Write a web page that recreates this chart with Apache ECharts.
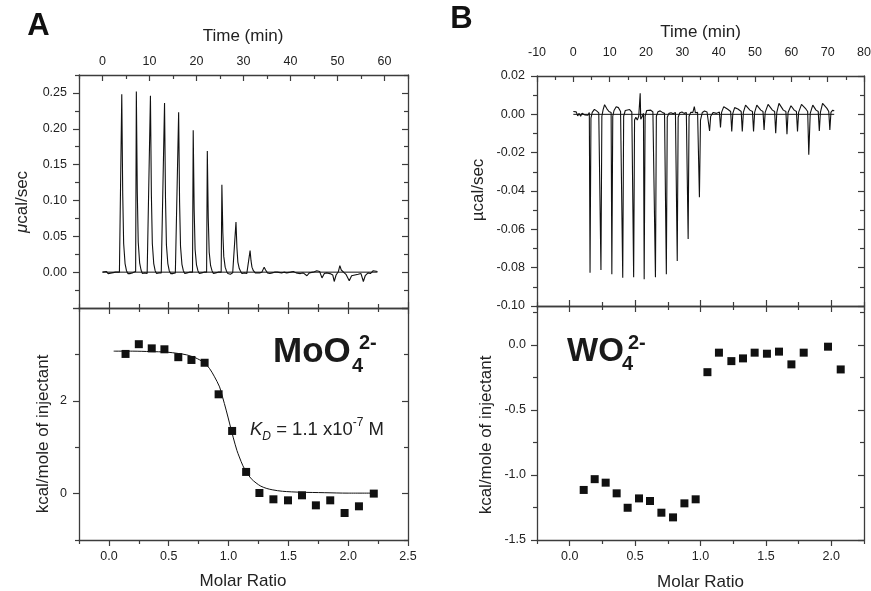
<!DOCTYPE html>
<html><head><meta charset="utf-8">
<script src="https://cdn.jsdelivr.net/npm/echarts@6/dist/echarts.min.js"></script>
<style>html,body{margin:0;padding:0;background:#fff}#c{width:871px;height:591px}</style>
</head><body><div id="c"></div>
<script>
// ---------------- DATA ----------------
// Panel A raw ITC thermogram: time (min) and power (µcal/sec)
const timeA = [0.0,0.4,0.8,1.2,1.6,2.0,2.4,2.8,3.2,3.6,3.95,
 4.1,4.3,4.5,4.8,5.1,5.4,5.9,6.4,6.8,7.05,
 7.2,7.4,7.6,7.9,8.2,8.5,9.0,9.5,9.9,10.05,
 10.2,10.4,10.6,10.9,11.2,11.5,12.0,12.5,12.9,13.05,
 13.2,13.4,13.6,13.9,14.2,14.5,15.0,15.5,15.9,16.05,
 16.2,16.4,16.6,16.9,17.2,17.5,18.0,18.5,18.9,19.15,
 19.3,19.5,19.7,20.0,20.3,20.6,21.1,21.6,22.0,22.15,
 22.3,22.5,22.7,23.0,23.3,23.6,24.1,24.6,25.0,25.25,
 25.4,25.6,25.8,26.1,26.4,26.7,27.2,27.7,28.1,28.25,
 28.4,28.6,28.8,29.1,29.4,29.7,30.2,30.7,31.1,31.25,
 31.4,31.6,31.8,32.1,32.5,32.9,33.4,33.9,34.25,
 34.4,34.7,35.1,35.6,36.1,36.6,37.2,37.6,38.1,38.6,39.2,40.0,40.6,41.2,42.1,42.7,
 43.5,44.0,44.8,45.6,46.2,46.7,47.2,47.7,48.4,49.0,49.3,49.7,50.2,50.5,50.8,51.2,
 51.8,52.5,53.0,53.7,54.4,55.0,55.5,55.9,56.5,57.0,57.6,58.0,58.5];
const powerA = [0.000,-0.001,0.001,-0.002,0.000,-0.001,0.001,0.000,0.002,0.000,0.001,
 0.248,0.110,0.040,0.012,0.002,-0.002,-0.002,-0.001,0.000,0.001,
 0.252,0.112,0.042,0.013,0.003,-0.002,-0.001,-0.002,0.000,0.000,
 0.246,0.108,0.040,0.012,0.002,-0.002,-0.001,-0.001,0.000,0.000,
 0.236,0.104,0.038,0.012,0.002,-0.002,-0.002,-0.001,0.000,0.000,
 0.223,0.098,0.036,0.011,0.002,-0.002,-0.001,0.000,-0.001,0.000,
 0.198,0.088,0.032,0.010,0.002,-0.002,-0.001,0.000,-0.001,0.000,
 0.169,0.076,0.028,0.009,0.002,-0.002,-0.001,0.000,0.000,0.000,
 0.122,0.056,0.022,0.007,0.001,-0.002,-0.003,-0.001,0.000,0.000,
 0.070,0.034,0.014,0.005,0.001,-0.002,-0.001,-0.002,0.000,0.000,
 0.030,0.016,0.007,0.002,-0.001,-0.002,-0.001,0.000,0.000,
 0.007,0.003,-0.001,-0.002,-0.001,0.000,0.000,0.001,-0.001,0.000,-0.001,0.000,0.001,-0.001,-0.002,-0.001,
 -0.005,-0.001,0.000,0.002,0.001,-0.008,-0.002,-0.001,-0.002,-0.004,-0.013,-0.004,0.001,0.009,0.003,0.001,
 -0.003,-0.012,-0.005,-0.004,-0.003,-0.002,-0.013,-0.005,-0.001,-0.002,0.002,0.000,0.001];
const baseTimeA = [0.0, 58.5];
const baseValA = [0, 0];

// Panel A integrated heats (kcal/mole of injectant) vs molar ratio
const molarA = [0.139,0.25,0.358,0.464,0.58,0.69,0.80,0.917,1.03,1.147,1.258,1.375,1.497,1.614,1.73,1.85,1.97,2.09,2.214];
const heatA  = [3.01,3.22,3.13,3.11,2.94,2.88,2.82,2.14,1.35,0.467,0.013,-0.123,-0.145,-0.037,-0.253,-0.145,-0.418,-0.274,0.0];
// Panel A fitted curve
const fitMolarA = [0.04,0.2,0.35,0.48,0.58,0.65,0.72,0.76,0.80,0.84,0.88,0.925,0.95,0.98,1.01,1.04,1.07,1.09,1.12,1.15,1.19,1.23,1.27,1.32,1.37,1.45,1.6,1.8,2.0,2.22];
const fitHeatA  = [3.07,3.07,3.06,3.05,3.02,2.99,2.93,2.88,2.81,2.70,2.53,2.30,2.08,1.80,1.50,1.20,0.93,0.79,0.60,0.46,0.32,0.23,0.16,0.11,0.08,0.05,0.03,0.02,0.01,0.01];

// Panel B raw ITC thermogram
const timeB = [0.0,0.4,0.8,1.2,1.6,2.0,2.4,2.8,3.2,3.6,4.0,4.4,
 4.6,4.85,5.2,5.8,6.4,7.0,7.4,
 7.6,7.85,8.2,8.6,9.2,9.8,10.4,
 10.6,10.85,11.2,11.8,12.4,13.0,13.4,
 13.6,13.85,14.3,14.8,15.5,16.1,16.4,
 16.6,16.85,17.2,17.6,18.0,18.3,18.4,18.55,19.0,19.3,
 19.5,19.75,20.2,20.7,21.3,21.9,22.4,
 22.6,22.85,23.3,23.9,24.5,25.1,25.4,
 25.6,25.85,26.3,26.9,27.5,28.1,28.4,
 28.6,28.85,29.3,29.9,30.5,31.1,31.4,
 31.6,31.85,32.3,32.9,33.3,33.6,34.2,34.5,
 34.7,35.0,35.5,36.1,36.8,37.2,
 37.5,37.8,38.5,39.4,40.2,
 40.5,40.8,41.4,42.4,43.3,
 43.6,43.9,44.4,45.3,46.2,
 46.5,46.8,47.4,48.6,49.3,
 49.6,49.9,50.5,51.6,52.2,
 52.5,52.8,53.6,54.8,55.4,
 55.7,56.0,56.6,57.8,58.5,
 58.8,59.1,59.9,60.8,61.4,
 61.7,62.0,62.8,64.0,64.5,
 64.8,65.2,65.9,66.8,67.4,
 67.7,68.0,68.6,69.8,70.3,
 70.6,70.9,71.4,71.8];
const powerB = [0.0015,0.0008,0.0013,-0.0008,0.0005,-0.0010,0.0006,0.0010,-0.0003,0.0004,-0.0005,0.0010,
 -0.0826,-0.0020,0.0010,0.0026,0.0018,0.0008,0.0010,
 -0.0812,-0.0010,0.0025,0.0050,0.0030,0.0015,0.0010,
 -0.0834,-0.0010,0.0020,0.0040,0.0035,0.0015,0.0010,
 -0.0852,-0.0010,0.0020,0.0030,0.0025,0.0012,0.0005,
 -0.0850,-0.0030,-0.0015,-0.0030,-0.0010,-0.0015,0.0110,-0.0025,-0.0010,0.0005,
 -0.0860,-0.0010,0.0020,0.0030,0.0022,0.0012,0.0010,
 -0.0850,-0.0010,0.0014,0.0018,0.0010,0.0005,0.0008,
 -0.0834,-0.0015,0.0005,0.0008,0.0003,0.0010,0.0005,
 -0.0765,-0.0015,0.0008,0.0012,0.0005,0.0010,0.0005,
 -0.0650,-0.0010,0.0010,0.0010,0.0040,0.0008,0.0010,0.0005,
 -0.0433,-0.0030,0.0010,0.0017,0.0012,0.0005,
 -0.0087,-0.0010,0.0010,0.0005,0.0012,
 -0.0069,0.0010,0.0040,0.0028,0.0015,
 -0.0090,0.0005,0.0035,0.0028,0.0015,
 -0.0090,0.0010,0.0048,0.0022,0.0015,
 -0.0090,0.0010,0.0048,0.0022,0.0015,
 -0.0081,0.0010,0.0052,0.0022,0.0015,
 -0.0099,0.0010,0.0057,0.0022,0.0015,
 -0.0104,0.0010,0.0045,0.0022,0.0015,
 -0.0090,0.0010,0.0052,0.0028,0.0015,
 -0.0211,0.0005,0.0048,0.0022,0.0015,
 -0.0087,0.0010,0.0057,0.0031,0.0015,
 -0.0081,0.0010,0.0022,0.0017];
const baseTimeB = [0.0, 71.8];
const baseValB = [0, 0];

// Panel B integrated heats
const molarB = [0.107,0.191,0.275,0.359,0.443,0.53,0.614,0.701,0.79,0.877,0.963,1.053,1.141,1.236,1.325,1.414,1.508,1.6,1.695,1.789,1.975,2.072];
const heatB  = [-1.115,-1.032,-1.059,-1.141,-1.252,-1.18,-1.2,-1.29,-1.326,-1.218,-1.187,-0.209,-0.059,-0.124,-0.103,-0.059,-0.067,-0.051,-0.149,-0.059,-0.013,-0.188];

// Tick values (labelled majors) and minor ticks
const timeTicksA  = [0,10,20,30,40,50,60];
const timeMinorA  = [-5,5,15,25,35,45,55,65];
const timeTicksB  = [-10,0,10,20,30,40,50,60,70,80];
const timeMinorB  = [-5,5,15,25,35,45,55,65,75];
const powerTicksA = [0.00,0.05,0.10,0.15,0.20,0.25];
const powerMajorA = [-0.05,0.00,0.05,0.10,0.15,0.20,0.25];
const powerMinorA = [-0.025,0.025,0.075,0.125,0.175,0.225,0.275];
const powerTicksB = [0.02,0.00,-0.02,-0.04,-0.06,-0.08,-0.10];
const powerMinorB = [0.01,-0.01,-0.03,-0.05,-0.07,-0.09];
const heatTicksA  = [0,2];
const heatMajorA  = [0,2,4];
const heatMinorA  = [-1,1,3];
const heatTicksB  = [0.0,-0.5,-1.0,-1.5];
const heatMinorB  = [0.25,-0.25,-0.75,-1.25];
const molarTicksA = [0.0,0.5,1.0,1.5,2.0,2.5];
const molarTicksB = [0.0,0.5,1.0,1.5,2.0];
const molarMinor  = [-0.25,0.25,0.75,1.25,1.75,2.25];

// ---------------- BUILD ----------------
const FONT = '"Liberation Sans", Arial, sans-serif';
const AXC = '#3c3c3c';
const TXT = '#222';
const zip = (a, b) => a.map((v, i) => [v, b[i]]);

const rects = [
  {left:79,  top:75,  width:329, height:233},  // A top
  {left:79,  top:308, width:329, height:232},  // A bottom
  {left:537, top:76,  width:327, height:230},  // B top
  {left:537, top:306, width:327, height:234}   // B bottom
];
const grids = [];
rects.forEach(r => grids.push(Object.assign({containLabel:false, outerBoundsMode:'none'}, r)));
rects.forEach(r => grids.push(Object.assign({containLabel:false, outerBoundsMode:'none'}, r)));

const xAxes = [], yAxes = [];
function mk(list, g, pos, min, max, ticks, o) {
  list.push({
    type:'value', gridIndex:g, position:pos, min:min, max:max,
    axisLine:{show:!!o.line, onZero:false, lineStyle:{color:AXC, width:1.3}},
    axisTick:{show:true, inside:!!o.inside, length:o.len, customValues:ticks, lineStyle:{color:AXC, width:1.2}},
    axisLabel:o.labels ? {show:true, customValues:o.labels, formatter:o.fmt, margin:o.margin,
      color:TXT, fontSize:12.5, fontFamily:FONT} : {show:false},
    splitLine:{show:false}, axisPointer:{show:false}
  });
  return list.length - 1;
}
const f0 = v => String(v), f1 = v => v.toFixed(1), f2 = v => v.toFixed(2);
const MAJ = 6, MIN = 4;

// ---- major axes ----
// A top
const xTimeA = mk(xAxes,0,'top',-5,65,timeTicksA,{line:1,inside:1,len:MAJ,labels:timeTicksA,fmt:f0,margin:7});
mk(xAxes,0,'bottom',-0.25,2.5,molarTicksA,{line:1,inside:1,len:MAJ});
const yPowA = mk(yAxes,0,'left',-0.05,0.275,powerMajorA,{line:1,inside:0,len:MAJ,labels:powerTicksA,fmt:f2,margin:12});
mk(yAxes,0,'right',-0.05,0.275,powerMajorA,{line:1,inside:1,len:MAJ});
// A bottom
const xMolA = mk(xAxes,1,'bottom',-0.25,2.5,molarTicksA,{line:1,inside:0,len:MAJ,labels:molarTicksA,fmt:f1,margin:10});
mk(xAxes,1,'top',-0.25,2.5,molarTicksA,{line:1,inside:1,len:MAJ});
const yHeatA = mk(yAxes,1,'left',-1,4,heatMajorA,{line:1,inside:0,len:MAJ,labels:heatTicksA,fmt:f0,margin:12});
mk(yAxes,1,'right',-1,4,heatMajorA,{line:1,inside:1,len:MAJ});
// B top
const xTimeB = mk(xAxes,2,'top',-10,80,timeTicksB,{line:1,inside:1,len:MAJ,labels:timeTicksB,fmt:f0,margin:17});
mk(xAxes,2,'bottom',-0.25,2.25,molarTicksB,{line:1,inside:1,len:MAJ});
const yPowB = mk(yAxes,2,'left',-0.10,0.02,powerTicksB,{line:1,inside:0,len:MAJ,labels:powerTicksB,fmt:f2,margin:12});
mk(yAxes,2,'right',-0.10,0.02,powerTicksB,{line:1,inside:1,len:MAJ});
// B bottom
const xMolB = mk(xAxes,3,'bottom',-0.25,2.25,molarTicksB,{line:1,inside:0,len:MAJ,labels:molarTicksB,fmt:f1,margin:10});
mk(xAxes,3,'top',-0.25,2.25,molarTicksB,{line:1,inside:1,len:MAJ});
const yHeatB = mk(yAxes,3,'left',-1.5,0.3,heatTicksB,{line:1,inside:0,len:MAJ,labels:heatTicksB,fmt:f1,margin:11});
mk(yAxes,3,'right',-1.5,0.3,heatTicksB,{line:1,inside:1,len:MAJ});

// ---- minor tick overlays ----
mk(xAxes,4,'top',-5,65,timeMinorA,{inside:1,len:MIN});
mk(xAxes,4,'bottom',-0.25,2.5,molarMinor,{inside:1,len:MIN});
mk(yAxes,4,'left',-0.05,0.275,powerMinorA,{inside:0,len:MIN});
mk(yAxes,4,'right',-0.05,0.275,powerMinorA,{inside:1,len:MIN});
mk(xAxes,5,'bottom',-0.25,2.5,molarMinor,{inside:0,len:MIN});
mk(xAxes,5,'top',-0.25,2.5,molarMinor,{inside:1,len:MIN});
mk(yAxes,5,'left',-1,4,heatMinorA,{inside:0,len:MIN});
mk(yAxes,5,'right',-1,4,heatMinorA,{inside:1,len:MIN});
mk(xAxes,6,'top',-10,80,timeMinorB,{inside:1,len:MIN});
mk(xAxes,6,'bottom',-0.25,2.25,molarMinor,{inside:1,len:MIN});
mk(yAxes,6,'left',-0.10,0.02,powerMinorB,{inside:0,len:MIN});
mk(yAxes,6,'right',-0.10,0.02,powerMinorB,{inside:1,len:MIN});
mk(xAxes,7,'bottom',-0.25,2.25,molarMinor,{inside:0,len:MIN});
mk(xAxes,7,'top',-0.25,2.25,molarMinor,{inside:1,len:MIN});
mk(yAxes,7,'left',-1.5,0.3,heatMinorB,{inside:0,len:MIN});
mk(yAxes,7,'right',-1.5,0.3,heatMinorB,{inside:1,len:MIN});

const lineS = (xi, yi, data, w) => ({type:'line', xAxisIndex:xi, yAxisIndex:yi, data:data,
  showSymbol:false, symbol:'none', lineStyle:{color:'#111', width:w}, silent:true, z:3});
const series = [
  lineS(xTimeA, yPowA, zip(baseTimeA, baseValA), 1),
  lineS(xTimeA, yPowA, zip(timeA, powerA), 1.1),
  Object.assign(lineS(xMolA, yHeatA, zip(fitMolarA, fitHeatA), 1), {smooth:0.3}),
  {type:'scatter', xAxisIndex:xMolA, yAxisIndex:yHeatA, data:zip(molarA, heatA), symbol:'rect', symbolSize:8,
   itemStyle:{color:'#111', opacity:1}, z:5, silent:true},
  lineS(xTimeB, yPowB, zip(baseTimeB, baseValB), 1),
  lineS(xTimeB, yPowB, zip(timeB, powerB), 1.1),
  {type:'scatter', xAxisIndex:xMolB, yAxisIndex:yHeatB, data:zip(molarB, heatB), symbol:'rect', symbolSize:8,
   itemStyle:{color:'#111', opacity:1}, z:5, silent:true}
];

const T = (x, y, text, size, extra) => Object.assign({type:'text', x:x, y:y, silent:true,
  style:Object.assign({text:text, fill:TXT, fontSize:size, fontFamily:FONT,
    align:'center', verticalAlign:'middle', textAlign:'center', textVerticalAlign:'middle'}, extra && extra.style || {})},
  extra && extra.el || {});
const R = Math.PI / 2;
const BL = {fontWeight:'bold', fill:'#1a1a1a', align:'left', textAlign:'left'};
const graphic = [
  T(38.5, 26, 'A', 31, {style:{fontWeight:'bold', fill:'#111'}}),
  T(461.5, 19, 'B', 31, {style:{fontWeight:'bold', fill:'#111'}}),
  T(243, 36, 'Time (min)', 17),
  T(700.5, 32, 'Time (min)', 17),
  T(243, 581, 'Molar Ratio', 17),
  T(700.5, 582, 'Molar Ratio', 17),
  T(22, 202, '{i|μ}{n|cal/sec}', 17, {el:{rotation:R}, style:{rich:{
    i:{fontStyle:'italic', fontSize:17, fontFamily:FONT, fill:TXT},
    n:{fontSize:17, fontFamily:FONT, fill:TXT}}}}),
  T(478, 190, 'µcal/sec', 17, {el:{rotation:R}}),
  T(43, 434, 'kcal/mole of injectant', 17, {el:{rotation:R}}),
  T(486, 435, 'kcal/mole of injectant', 17, {el:{rotation:R}}),
  // MoO4 2-
  T(273, 352.5, 'MoO', 35, {style:BL}),
  T(352, 366, '4', 20, {style:BL}),
  T(359, 343, '2-', 20, {style:BL}),
  // WO4 2-
  T(567, 351.5, 'WO', 33, {style:BL}),
  T(622, 364, '4', 20, {style:BL}),
  T(628, 343, '2-', 20, {style:BL}),
  T(250, 430, '{k|K}{d|D}{n| = 1.1 x10}{e|-7}{n| M}', 18.5, {style:{align:'left', textAlign:'left', rich:{
    k:{fontSize:18.5, fontStyle:'italic', fontFamily:FONT, fill:TXT, lineHeight:26},
    d:{fontSize:12, fontStyle:'italic', fontFamily:FONT, fill:TXT, verticalAlign:'bottom', lineHeight:13},
    n:{fontSize:18.5, fontFamily:FONT, fill:TXT, lineHeight:26},
    e:{fontSize:12, fontFamily:FONT, fill:TXT, verticalAlign:'top', lineHeight:13}}}})
];

const chart = echarts.init(document.getElementById('c'), null, {renderer:'canvas'});
chart.setOption({
  animation:false, backgroundColor:'#fff',
  grid:grids, xAxis:xAxes, yAxis:yAxes, series:series, graphic:graphic
});
</script></body></html>
